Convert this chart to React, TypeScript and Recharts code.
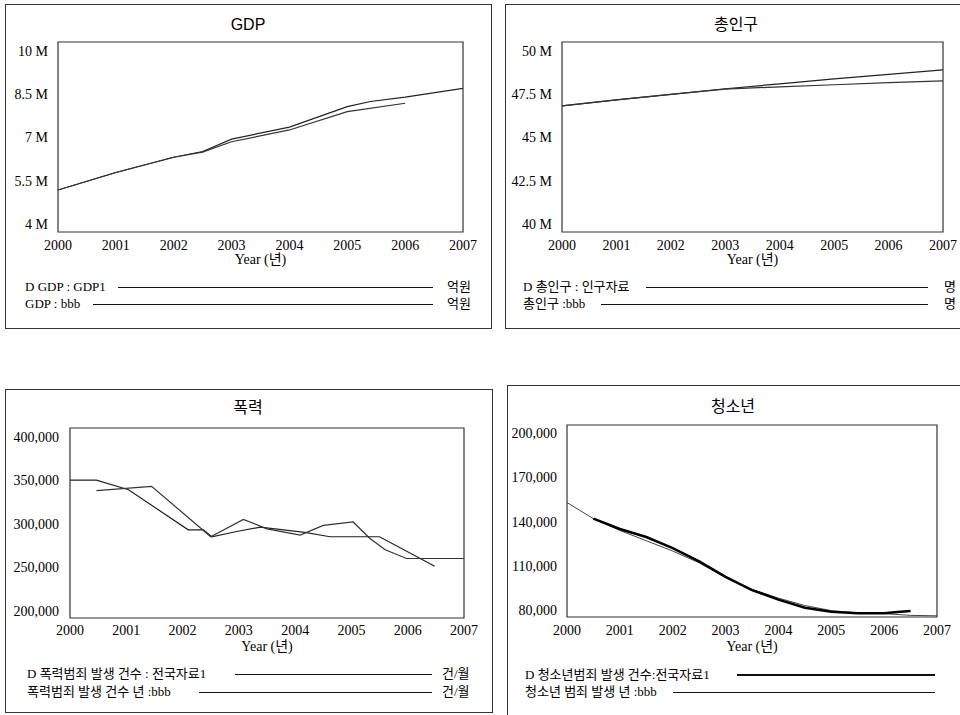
import { LineChart, Line, XAxis, YAxis, ReferenceArea } from 'recharts'

const SERIF = "'Liberation Serif', 'Noto Sans CJK KR', serif"
const SANS = "'Liberation Sans', 'Noto Sans CJK KR', sans-serif"

const years = [2000, 2001, 2002, 2003, 2004, 2005, 2006, 2007]

// GDP (억원)
const gdpDataT = [2000, 2001, 2002, 2002.5, 2003, 2004, 2005, 2005.4, 2006, 2007]
const gdpDataV = [5170000, 5780000, 6310000, 6510000, 6940000, 7360000, 8070000, 8250000, 8400000, 8710000]
const gdpSimT = [2000, 2001, 2002, 2002.5, 2003, 2004, 2005, 2006]
const gdpSimV = [5170000, 5780000, 6310000, 6490000, 6850000, 7260000, 7900000, 8190000]
const gdpTicks = [4000000, 5500000, 7000000, 8500000, 10000000]

// 총인구 (명)
const popDataV = [46830000, 47180000, 47500000, 47830000, 48110000, 48400000, 48660000, 48920000]
const popSimV = [46830000, 47180000, 47500000, 47810000, 47940000, 48060000, 48180000, 48290000]
const popTicks = [40000000, 42500000, 45000000, 47500000, 50000000]

// 폭력 (건/월)
const violDataT = [2000, 2000.47, 2001.04, 2002.1, 2002.37, 2002.52, 2002.96, 2003.38, 2004.17, 2004.62, 2005.5, 2006.48]
const violDataV = [350000, 350000, 339000, 293000, 293000, 285000, 291000, 296000, 290000, 285000, 285000, 251000]
const violSimT = [2000.47, 2001.45, 2002.5, 2003.08, 2003.5, 2004.09, 2004.5, 2005.03, 2005.33, 2005.6, 2005.98, 2007]
const violSimV = [338000, 343000, 285000, 305000, 294000, 287000, 298000, 302000, 283000, 270000, 260000, 260000]
const violTicks = [200000, 250000, 300000, 350000, 400000]

// 청소년
const youthDataT = [2000.5, 2001, 2001.5, 2002, 2002.5, 2003, 2003.5, 2004, 2004.5, 2005, 2005.5, 2006, 2006.25, 2006.5]
const youthDataV = [142000, 135000, 129500, 122000, 113000, 102500, 93500, 87000, 81500, 78800, 77800, 77800, 78600, 79300]
const youthSimT = [2000, 2000.5, 2001, 2001.5, 2002, 2002.5, 2003, 2003.5, 2004, 2004.5, 2005, 2005.5, 2006, 2006.5, 2007]
const youthSimV = [152900, 142000, 134000, 127000, 120000, 112000, 102000, 94000, 88000, 83000, 79500, 78000, 77500, 76300, 76000]
const youthTicks = [80000, 110000, 140000, 170000, 200000]

const pts = (t: number[], v: number[]) => t.map((x, i) => ({ t: x, v: v[i] }))

const millions = (v: number) => `${v / 1000000} M`
const commas = (v: number) => v.toLocaleString('en-US')

const panels = [
  {
    box: { x: 5, y: 4, w: 487, h: 325 },
    title: 'GDP', titleX: 248, titleY: 25,
    plot: { x0: 58, x1: 463, y0: 42, y1: 232 },
    yDomain: [3710000, 10320000], yTicks: gdpTicks, yFormat: millions, yLabelRight: 48,
    xMargin: 8, yearX: 260.5, yearY: 260,
    series: [
      { data: pts(gdpDataT, gdpDataV), color: '#222', width: 1.2 },
      { data: pts(gdpSimT, gdpSimV), color: '#333', width: 1.2 },
    ],
    legendX: 25, lineEnd: 433, unit: '억원', unitX: 447,
    legend: [
      { label: 'D GDP : GDP1', y: 287, start: 118, width: 1 },
      { label: 'GDP : bbb', y: 304, start: 93, width: 1 },
    ],
  },
  {
    box: { x: 505, y: 4, w: 470, h: 325 },
    title: '총인구', titleX: 736, titleY: 25,
    plot: { x0: 562, x1: 943, y0: 42, y1: 232 },
    yDomain: [39520000, 50540000], yTicks: popTicks, yFormat: millions, yLabelRight: 552,
    xMargin: 8, yearX: 752.5, yearY: 260,
    series: [
      { data: pts(years, popDataV), color: '#222', width: 1.2 },
      { data: pts(years, popSimV), color: '#333', width: 1.2 },
    ],
    legendX: 523, lineEnd: 928, unit: '명', unitX: 944,
    legend: [
      { label: 'D 총인구 : 인구자료', y: 287, start: 646, width: 1 },
      { label: '총인구 :bbb', y: 304, start: 601, width: 1 },
    ],
  },
  {
    box: { x: 5, y: 389, w: 488, h: 324 },
    title: '폭력', titleX: 248, titleY: 408,
    plot: { x0: 70, x1: 464, y0: 428, y1: 618 },
    yDomain: [191600, 410000], yTicks: violTicks, yFormat: commas, yLabelRight: 59,
    xMargin: 7, yearX: 267, yearY: 647,
    series: [
      { data: pts(violDataT, violDataV), color: '#222', width: 1.2 },
      { data: pts(violSimT, violSimV), color: '#333', width: 1.2 },
    ],
    legendX: 27, lineEnd: 432, unit: '건/월', unitX: 442,
    legend: [
      { label: 'D 폭력범죄 발생 건수 : 전국자료1', y: 674, start: 235, width: 1 },
      { label: '폭력범죄 발생 건수 년 :bbb', y: 692, start: 199, width: 1 },
    ],
  },
  {
    box: { x: 507, y: 385, w: 470, h: 340 },
    title: '청소년', titleX: 733, titleY: 407,
    plot: { x0: 567, x1: 937, y0: 425, y1: 617 },
    yDomain: [75200, 205600], yTicks: youthTicks, yFormat: commas, yLabelRight: 557,
    xMargin: 8, yearX: 752, yearY: 647,
    series: [
      { data: pts(youthSimT, youthSimV), color: '#444', width: 1 },
      { data: pts(youthDataT, youthDataV), color: '#000', width: 2.5 },
    ],
    legendX: 525, lineEnd: 935, unit: '', unitX: 0,
    legend: [
      { label: 'D 청소년범죄 발생 건수:전국자료1', y: 675, start: 737, width: 2.5 },
      { label: '청소년 범죄 발생 년 :bbb', y: 692, start: 673, width: 1 },
    ],
  },
]

type PanelCfg = (typeof panels)[number]

function Label({ x, y, text, size = 13, font = SERIF, center = false }: { x: number; y: number; text: string; size?: number; font?: string; center?: boolean }) {
  return (
    <div
      style={{
        position: 'absolute',
        left: x,
        top: y - 9,
        lineHeight: '18px',
        fontSize: size,
        fontFamily: font,
        color: '#000',
        whiteSpace: 'nowrap',
        transform: center ? 'translateX(-50%)' : undefined,
      }}
    >
      {text}
    </div>
  )
}

function Panel({ cfg }: { cfg: PanelCfg }) {
  const { plot } = cfg
  const width = plot.x1 + 20
  const height = plot.y1 - plot.y0 + 40
  const tickStyle = { fill: '#000', fontSize: 14, fontFamily: SERIF }
  return (
    <>
      <div
        style={{
          position: 'absolute',
          left: cfg.box.x,
          top: cfg.box.y,
          width: cfg.box.w,
          height: cfg.box.h,
          border: '1px solid #333',
          boxSizing: 'border-box',
        }}
      />
      <Label x={cfg.titleX} y={cfg.titleY} text={cfg.title} size={16} font={SANS} center />
      <div style={{ position: 'absolute', left: 0, top: plot.y0 - 10 }}>
        <LineChart width={width} height={height} margin={{ top: 10, right: 20, bottom: 0, left: 0 }}>
          <XAxis
            dataKey="t"
            type="number"
            domain={[2000, 2007]}
            ticks={years}
            allowDataOverflow
            interval={0}
            height={30}
            tickLine={false}
            axisLine={false}
            tickSize={0}
            tickMargin={cfg.xMargin}
            tick={tickStyle}
          />
          <YAxis
            type="number"
            domain={cfg.yDomain}
            ticks={cfg.yTicks}
            allowDataOverflow
            interval={0}
            width={plot.x0}
            tickLine={false}
            axisLine={false}
            tickSize={0}
            tickMargin={plot.x0 - cfg.yLabelRight}
            tickFormatter={cfg.yFormat}
            tick={tickStyle}
          />
          <ReferenceArea
            x1={2000}
            x2={2007}
            y1={cfg.yDomain[0]}
            y2={cfg.yDomain[1]}
            fill="none"
            stroke="#333"
            strokeWidth={1.2}
            ifOverflow="visible"
          />
          {cfg.series.map((s, i) => (
            <Line
              key={i}
              data={s.data}
              dataKey="v"
              type="linear"
              stroke={s.color}
              strokeWidth={s.width}
              dot={false}
              activeDot={false}
              isAnimationActive={false}
            />
          ))}
        </LineChart>
      </div>
      <Label x={cfg.yearX} y={cfg.yearY} text="Year (년)" size={14} center />
      {cfg.legend.map((row) => (
        <div key={row.label}>
          <Label x={cfg.legendX} y={row.y} text={row.label} />
          <div
            style={{
              position: 'absolute',
              left: row.start,
              top: row.y - row.width / 2,
              width: cfg.lineEnd - row.start,
              height: 0,
              borderTop: `${row.width}px solid #111`,
            }}
          />
          {cfg.unit && <Label x={cfg.unitX} y={row.y} text={cfg.unit} />}
        </div>
      ))}
    </>
  )
}

export default function App() {
  return (
    <div
      style={{
        position: 'absolute',
        left: 0,
        top: 0,
        width: 960,
        height: 715,
        overflow: 'hidden',
        background: '#fff',
      }}
    >
      {panels.map((p) => (
        <Panel key={p.title} cfg={p} />
      ))}
    </div>
  )
}
